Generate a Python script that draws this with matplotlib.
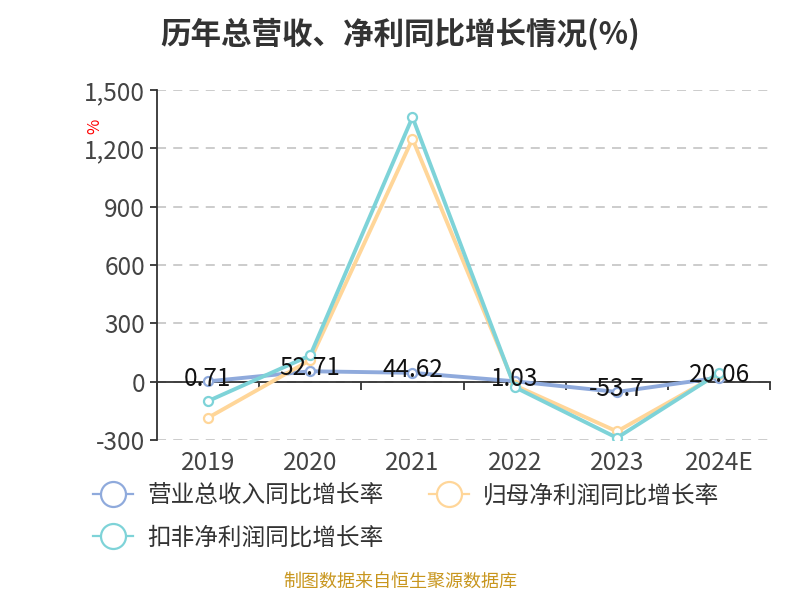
import matplotlib
matplotlib.use("Agg")
import matplotlib.pyplot as plt
from matplotlib.lines import Line2D
from matplotlib.ticker import FuncFormatter, FixedLocator

plt.rcParams['font.family'] = ['Noto Sans CJK SC', 'DejaVu Sans']

# 数据
years = ['2019', '2020', '2021', '2022', '2023', '2024E']
revenue_growth = [0.71, 52.71, 44.62, 1.03, -53.7, 20.06]
parent_profit_growth = [-187, 110, 1248, -20, -257, 40]
deducted_profit_growth = [-101, 134, 1360, -29, -290, 45]
series_names = ['营业总收入同比增长率', '归母净利润同比增长率', '扣非净利润同比增长率']
colors = ['#8FAADC', '#FFD699', '#7ED3D8']
y_ticks = [-300, 0, 300, 600, 900, 1200, 1500]

fig = plt.figure(figsize=(8, 6), dpi=100)
ax = fig.add_axes([0.196, 0.267, 0.767, 0.583])

x = list(range(len(years)))
for vals, name, c in zip([revenue_growth, parent_profit_growth, deducted_profit_growth], series_names, colors):
    ax.plot(x, vals, color=c, lw=2.8, marker='o', ms=6.5, mfc='white', mec=c, mew=1.6,
            label=name, zorder=3)

# 数据标签
for xi, v in zip(x, revenue_growth):
    ax.annotate(f'{v:g}', (xi, v), xytext=(0, 2), textcoords='offset points',
                ha='center', va='center', fontsize=17.5, color='#111111', zorder=5)

ax.set_xlim(-0.5, len(years) - 0.5)
ax.set_ylim(-300, 1500)
ax.yaxis.set_major_locator(FixedLocator(y_ticks))
ax.yaxis.set_major_formatter(FuncFormatter(lambda v, p: f'{int(v):,}'))
ax.grid(axis='y', linestyle=(0, (5, 4)), color='#C8C8C8', lw=1.3)
ax.set_axisbelow(True)

ax.spines['top'].set_visible(False)
ax.spines['right'].set_visible(False)
ax.spines['left'].set_color('#333333')
ax.spines['left'].set_linewidth(1.3)
ax.spines['bottom'].set_position(('data', 0))
ax.spines['bottom'].set_color('#333333')
ax.spines['bottom'].set_linewidth(1.3)
ax.tick_params(axis='y', labelsize=17.5, colors='#333333', length=5, width=1.3, labelcolor='#444444')

# x轴刻度线在类目之间，标签放在底部
ax.set_xticks([i - 0.5 for i in range(len(years) + 1)])
ax.set_xticklabels([])
ax.tick_params(axis='x', length=6, width=1.3, colors='#333333')
sec = ax.secondary_xaxis(0.0)
sec.set_xticks(x)
sec.set_xticklabels(years)
sec.tick_params(length=0, labelsize=17.5, labelcolor='#444444', pad=7)
sec.spines['bottom'].set_visible(False)

fig.text(0.119, 0.79, '%', color='red', fontsize=12, rotation=90, ha='center', va='center')

fig.suptitle('历年总营收、净利同比增长情况(%)', x=0.5, y=0.97, fontsize=22, fontweight='bold', color='#333333')

# 图例：按行排列
handles = [Line2D([], [], color=c, lw=1.6, marker='o', ms=18, mfc='white', mec=c, mew=1.6)
           for c in colors]
order = [0, 2, 1]
fig.legend([handles[i] for i in order], [series_names[i] for i in order],
           loc='upper left', bbox_to_anchor=(0.09, 0.228), ncol=2, frameon=False,
           fontsize=17, handlelength=1.7, handletextpad=0.6,
           columnspacing=1.9, labelspacing=0.8, labelcolor='#333333')

fig.text(0.5, 0.015, '制图数据来自恒生聚源数据库', ha='center', va='bottom', fontsize=13, color='#C8961E')

fig.savefig('out.png', dpi=100)
